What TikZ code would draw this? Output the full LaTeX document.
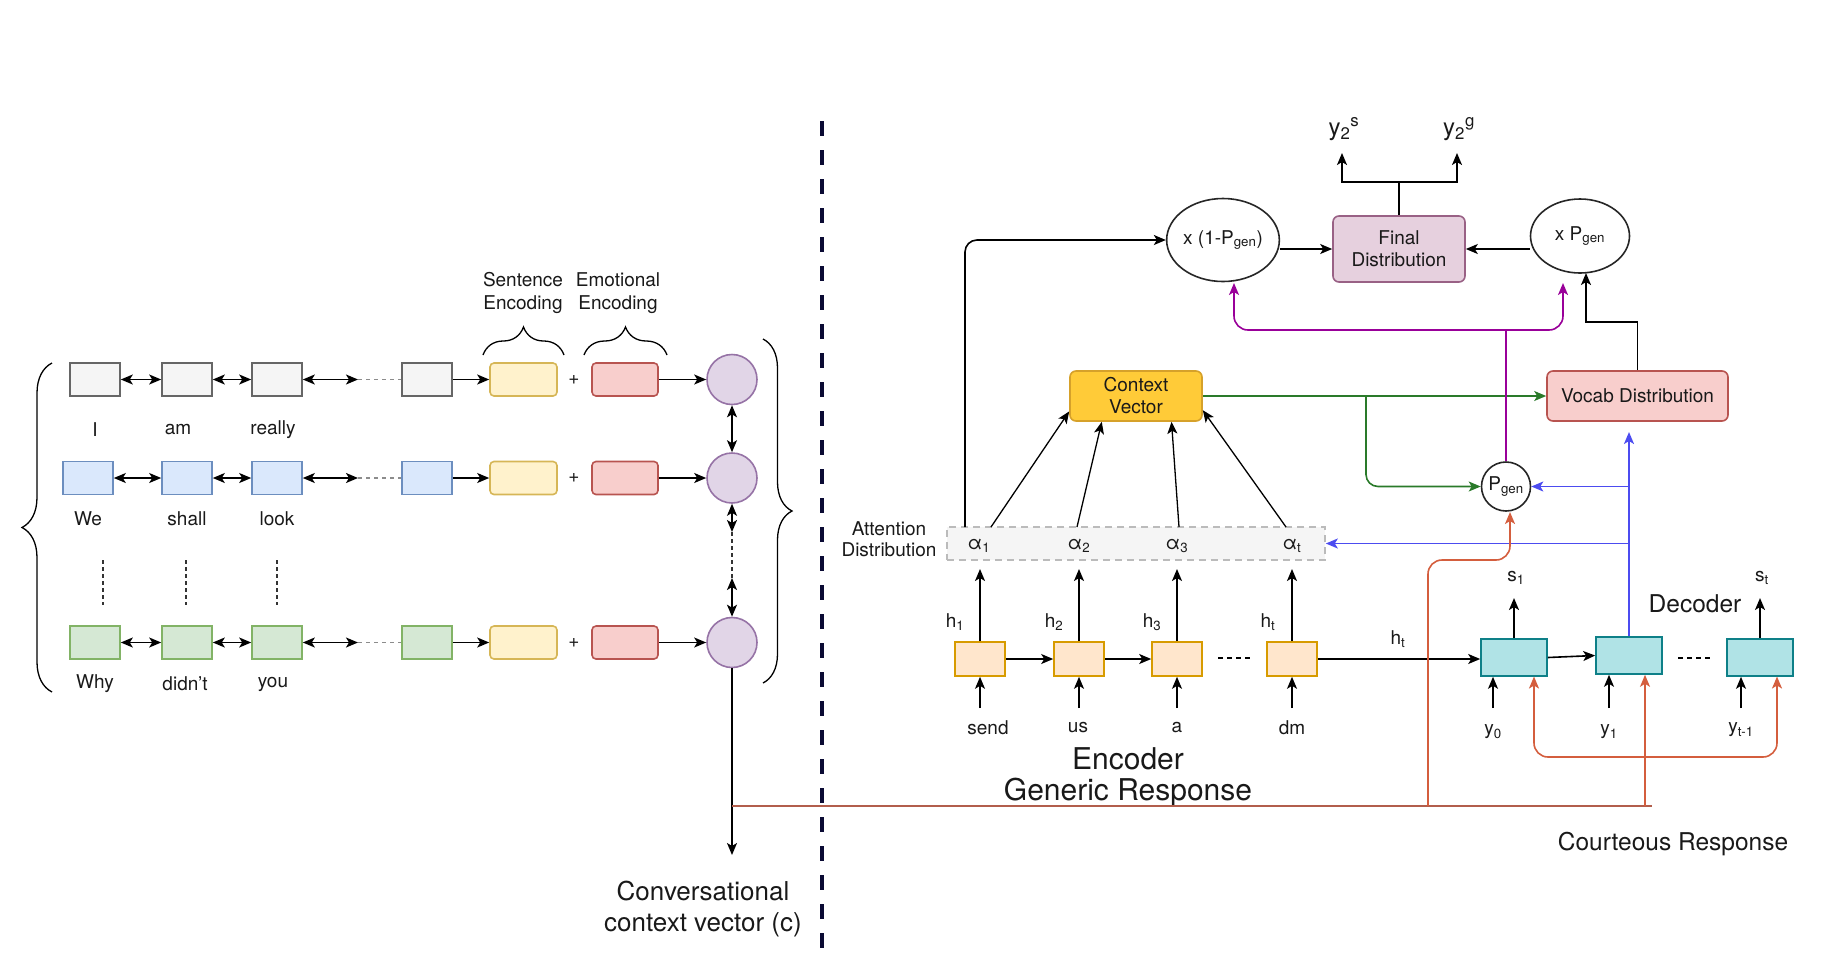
\documentclass[tikz,border=0pt]{standalone}
\usepackage{fontspec}
\setmainfont{TeX Gyre Heros}
\usetikzlibrary{arrows.meta,decorations.pathreplacing,shapes.geometric,calc}

\definecolor{gryF}{HTML}{F5F5F5}\definecolor{gryD}{HTML}{666666}
\definecolor{bluF}{HTML}{DAE8FC}\definecolor{bluD}{HTML}{6C8EBF}
\definecolor{grnF}{HTML}{D5E8D4}\definecolor{grnD}{HTML}{82B366}
\definecolor{ylwF}{HTML}{FFF2CC}\definecolor{ylwD}{HTML}{D6B656}
\definecolor{redF}{HTML}{F8CECC}\definecolor{redD}{HTML}{B85450}
\definecolor{prpF}{HTML}{E1D5E7}\definecolor{prpD}{HTML}{9673A6}
\definecolor{finF}{HTML}{E6D0DE}\definecolor{finD}{HTML}{996185}
\definecolor{ctxF}{HTML}{FFCB38}\definecolor{ctxD}{HTML}{D6A12A}
\definecolor{encF}{HTML}{FFE6CC}\definecolor{encD}{HTML}{D79B00}
\definecolor{decF}{HTML}{B0E3E6}\definecolor{decD}{HTML}{0E8088}
\definecolor{attD}{HTML}{BBBBBB}
\definecolor{lnBrown}{HTML}{D45E3E}
\definecolor{lnBrownMain}{HTML}{B25E4C}
\definecolor{lnBlue}{HTML}{4C4CF0}
\definecolor{lnPurple}{HTML}{990099}
\definecolor{lnGreen}{HTML}{2A7A2A}
\definecolor{navy}{HTML}{0A0A33}

\begin{document}
\begin{tikzpicture}[x=1pt,y=-1pt,line width=1.6pt,
  >={Stealth[length=12pt,width=10pt,inset=3pt]},
  every node/.style={font=\fontsize{19}{22}\selectfont,inner sep=0pt,text=black!90},
  tok/.style 2 args={draw=#2,fill=#1,minimum width=50,minimum height=33},
  tokgray/.style={tok={gryF}{gryD}},
  tokblue/.style={tok={bluF}{bluD}},
  tokgreen/.style={tok={grnF}{grnD}},
  sencbox/.style={draw=ylwD,fill=ylwF,rounded corners=4pt,minimum width=67,minimum height=33},
  emobox/.style={draw=redD,fill=redF,rounded corners=4pt,minimum width=66,minimum height=33},
  uttnode/.style={circle,draw=prpD,fill=prpF,minimum size=50},
  encbox/.style={draw=encD,fill=encF,minimum width=50,minimum height=34},
  decbox/.style={draw=decD,fill=decF,minimum width=66,minimum height=37},
  mulnode/.style={ellipse,draw=black!85,fill=white,align=center},
  bigtxt/.style={font=\fontsize{30}{31}\selectfont,align=center},
  midtxt/.style={font=\fontsize{24.5}{28}\selectfont},
  gapdots/.style={draw=black!45,dash pattern=on 4pt off 4pt},
  vdots/.style={draw=black!80,line width=1.3pt,dash pattern=on 4pt off 3pt},
  bracepath/.style={decorate,line width=1.3pt,decoration={brace,amplitude=#1}}
]
\useasboundingbox (0,0) rectangle (1840,978);

% ---------------- utterance encoder ----------------
% row 1
\node[tokgray] (r1a) at (95,379.5) {};
\node[tokgray] (r1b) at (187,379.5) {};
\node[tokgray] (r1c) at (277,379.5) {};
\node[tokgray] (r1d) at (427,379.5) {};
\node[sencbox] (r1s) at (523.5,379.5) {};
\node (r1p) at (574,379.5) {+};
\node[emobox] (r1e) at (625,379.5) {};
\node[uttnode] (u1) at (732,379.5) {};
\coordinate (r1m) at (358,379.5);
\draw[<->] (r1a) -- (r1b);
\draw[<->] (r1b) -- (r1c);
\draw[<->] (r1c) -- (r1m);
\draw[gapdots] (r1m) -- (r1d);
\draw[->] (r1d) -- (r1s);
\draw[->] (r1e) -- (u1);
\node (w11) at (95,430) {I};
\node (w12) at (178,430) {am};
\node (w13) at (273,430) {really};

% row 2
\node[tokblue] (r2a) at (88,478) {};
\node[tokblue] (r2b) at (187,478) {};
\node[tokblue] (r2c) at (277,478) {};
\node[tokblue] (r2d) at (427,478) {};
\node[sencbox] (r2s) at (523.5,478) {};
\node (r2p) at (574,478) {+};
\node[emobox] (r2e) at (625,478) {};
\node[uttnode] (u2) at (732,478) {};
\coordinate (r2m) at (358,478);
\draw[<->] (r2a) -- (r2b);
\draw[<->] (r2b) -- (r2c);
\draw[<->] (r2c) -- (r2m);
\draw[gapdots] (r2m) -- (r2d);
\draw[->] (r2d) -- (r2s);
\draw[->] (r2e) -- (u2);
\node (w21) at (88,519) {We};
\node (w22) at (187,519) {shall};
\node (w23) at (277,519) {look};

% vertical ellipsis between rows
\coordinate (vd1a) at (103,560); \coordinate (vd1b) at (103,605);
\coordinate (vd2a) at (186,560); \coordinate (vd2b) at (186,605);
\coordinate (vd3a) at (277,560); \coordinate (vd3b) at (277,605);
\draw[vdots] (vd1a) -- (vd1b);
\draw[vdots] (vd2a) -- (vd2b);
\draw[vdots] (vd3a) -- (vd3b);

% row 3
\node[tokgreen] (r3a) at (95,642.5) {};
\node[tokgreen] (r3b) at (187,642.5) {};
\node[tokgreen] (r3c) at (277,642.5) {};
\node[tokgreen] (r3d) at (427,642.5) {};
\node[sencbox] (r3s) at (523.5,642.5) {};
\node (r3p) at (574,642.5) {+};
\node[emobox] (r3e) at (625,642.5) {};
\node[uttnode] (u3) at (732,642.5) {};
\coordinate (r3m) at (358,642.5);
\draw[<->] (r3a) -- (r3b);
\draw[<->] (r3b) -- (r3c);
\draw[<->] (r3c) -- (r3m);
\draw[gapdots] (r3m) -- (r3d);
\draw[->] (r3d) -- (r3s);
\draw[->] (r3e) -- (u3);
\node (w31) at (95,684) {Why};
\node (w32) at (185,684) {didn't};
\node (w33) at (273,684) {you};

% braces and their captions
\coordinate (lbA) at (52,692); \coordinate (lbB) at (52,363);
\draw[bracepath=30pt] (lbA) -- (lbB);
\coordinate (rbA) at (763,339); \coordinate (rbB) at (763,683);
\draw[bracepath=29pt] (rbA) -- (rbB);
\coordinate (sbA) at (483,355); \coordinate (sbB) at (564,355);
\draw[bracepath=28pt] (sbA) -- (sbB);
\coordinate (ebA) at (584,355); \coordinate (ebB) at (667,355);
\draw[bracepath=28pt] (ebA) -- (ebB);
\node[align=center,font=\fontsize{19}{23}\selectfont] (sencap) at (523,293) {Sentence\\Encoding};
\node[align=center,font=\fontsize{19}{23}\selectfont] (emocap) at (618,293) {Emotional\\Encoding};

% utterance-level chain
\coordinate (um1) at (732,532);
\coordinate (um2) at (732,578);
\coordinate (cvec) at (732,855);
\draw[<->] (u1) -- (u2);
\draw[<->] (u2) -- (um1);
\draw[vdots] (um1) -- (um2);
\draw[<->] (um2) -- (u3);
\draw[->] (u3) -- (cvec);
\node[align=center,font=\fontsize{26}{31}\selectfont] (cvlabel) at (703,909) {Conversational\\context vector (c)};

% separator
\coordinate (sepA) at (822,121); \coordinate (sepB) at (822,953);
\draw[navy,line width=4.2pt,dash pattern=on 15pt off 14pt] (sepA) -- (sepB);

% ---------------- pointer-generator side ----------------
\node[draw=attD,fill=gryF,dashed,dash pattern=on 7pt off 5pt,minimum width=378,minimum height=33] (att) at (1136,543.5) {};
\node[align=center,font=\fontsize{19}{21}\selectfont] (attlbl) at (889,539) {Attention\\Distribution};
\node (al1) at (979,546) {α\textsubscript{1}};
\node (al2) at (1079,546) {α\textsubscript{2}};
\node (al3) at (1177,546) {α\textsubscript{3}};
\node (alt) at (1292,546) {α\textsubscript{t}};

% encoder
\node[encbox] (e1) at (980,659) {};
\node[encbox] (e2) at (1079,659) {};
\node[encbox] (e3) at (1177,659) {};
\node[encbox] (e4) at (1292,659) {};
\draw[->] (e1) -- (e2);
\draw[->] (e2) -- (e3);
\coordinate (edA) at (1218,658); \coordinate (edB) at (1252,658);
\draw[line width=1.3pt,dash pattern=on 5pt off 4pt] (edA) -- (edB);
\coordinate (h1t) at (980,569); \coordinate (h2t) at (1079,569);
\coordinate (h3t) at (1177,569); \coordinate (h4t) at (1292,569);
\draw[->] (e1.north) -- (h1t);
\draw[->] (e2.north) -- (h2t);
\draw[->] (e3.north) -- (h3t);
\draw[->] (e4.north) -- (h4t);
\node (h1) at (955,622) {h\textsubscript{1}};
\node (h2) at (1054,622) {h\textsubscript{2}};
\node (h3) at (1152,622) {h\textsubscript{3}};
\node (h4) at (1268,622) {h\textsubscript{t}};
\coordinate (x1) at (980,708); \coordinate (x2) at (1079,708);
\coordinate (x3) at (1177,708); \coordinate (x4) at (1292,708);
\draw[->] (x1) -- (e1.south);
\draw[->] (x2) -- (e2.south);
\draw[->] (x3) -- (e3.south);
\draw[->] (x4) -- (e4.south);
\node (ws1) at (988,728) {send};
\node (ws2) at (1078,728) {us};
\node (ws3) at (1177,728) {a};
\node (ws4) at (1292,728) {dm};
\node[bigtxt] (enclbl) at (1128,777) {Encoder\\Generic Response};

% context vector and its attention inputs
\node[draw=ctxD,fill=ctxF,rounded corners=6pt,minimum width=132,minimum height=50,align=center,font=\fontsize{19}{22}\selectfont] (ctx) at (1136,396) {Context\\Vector};
\coordinate (a1s) at (991,527); \coordinate (a2s) at (1077,527);
\coordinate (a3s) at (1179,527); \coordinate (a4s) at (1286,527);
\draw[->,line width=1.3pt] (a1s) -- (ctx.193);
\draw[->,line width=1.3pt] (a2s) -- (ctx.217);
\draw[->,line width=1.3pt] (a3s) -- (ctx.-36);
\draw[->,line width=1.3pt] (a4s) -- (ctx.-12);

% mixing nodes and final distribution
\node[mulnode,minimum width=106,minimum height=83] (om) at (1223,240) {x (1-P\textsubscript{gen})};
\node[draw=finD,fill=finF,rounded corners=6pt,minimum width=132,minimum height=66,align=center,font=\fontsize{19}{22}\selectfont] (final) at (1399,249) {Final\\Distribution};
\node[mulnode,minimum width=99,minimum height=74] (pm) at (1580,236) {x P\textsubscript{gen}};
\node[draw=redD,fill=redF,rounded corners=6pt,minimum width=181,minimum height=50] (vocab) at (1637.5,396) {Vocab Distribution};
\node[circle,draw=black!85,fill=white,minimum size=49] (pgen) at (1506,486.5) {P\textsubscript{gen}};

\coordinate (attup) at (965,527);
\draw[->,rounded corners=12pt] (attup) |- (om.west);
\draw[->] (om.east |- final.west) -- (final.west);
\draw[->] (pm.west |- final.east) -- (final.east);

% outputs
\node[font=\fontsize{24}{26}\selectfont] (ys) at (1344,129) {y\textsubscript{2}\textsuperscript{s}};
\node[font=\fontsize{24}{26}\selectfont] (yg) at (1459,129) {y\textsubscript{2}\textsuperscript{g}};
\coordinate (fsplit) at (1399,182);
\coordinate (ysA) at (1342,153); \coordinate (ygA) at (1457,153);
\draw (final.north) -- (fsplit);
\draw[->] (fsplit) -| (ysA);
\draw[->] (fsplit) -| (ygA);

% vocab distribution to the generation weight
\coordinate (vbend) at (1637.5,322);
\coordinate (pmin) at (1586,273);
\draw[->] (vocab.north) -- (vbend) -| (pmin);

% context vector flows
\coordinate (gsplit) at (1366,396);
\draw[->,lnGreen] (ctx.east) -- (vocab.west);
\draw[->,lnGreen,rounded corners=12pt] (gsplit) |- (pgen.west);

% p_gen to both mixers
\coordinate (psplit) at (1506,330);
\coordinate (omin) at (1234,283);
\coordinate (pmin2) at (1563,283);
\draw[lnPurple] (pgen.north) -- (psplit);
\draw[->,lnPurple,rounded corners=14pt] (psplit) -| (omin);
\draw[->,lnPurple,rounded corners=14pt] (psplit) -| (pmin2);

% decoder
\node[decbox] (d1) at (1514,657.5) {};
\node[decbox] (d2) at (1629,655.5) {};
\node[decbox] (d3) at (1760,657.5) {};
\draw[->] (e4.east) -- (e4.east -| d1.west);
\node (htl) at (1398,639) {h\textsubscript{t}};
\draw[->] (d1.east) -- (d2.west);
\coordinate (ddA) at (1678,658); \coordinate (ddB) at (1712,658);
\draw[line width=1.3pt,dash pattern=on 5pt off 4pt] (ddA) -- (ddB);
\coordinate (s1t) at (1514,598); \coordinate (stt) at (1760,598);
\draw[->] (d1.north) -- (s1t);
\draw[->] (d3.north) -- (stt);
\node (s1) at (1516,578) {s\textsubscript{1}};
\node (st) at (1762,578) {s\textsubscript{t}};
\node[midtxt] (declbl) at (1695,604) {Decoder};
\coordinate (y0b) at (1493,708); \coordinate (y1b) at (1609,708); \coordinate (ytb) at (1741,708);
\draw[->] (y0b) -- (y0b |- d1.south);
\draw[->] (y1b) -- (y1b |- d2.south);
\draw[->] (ytb) -- (ytb |- d3.south);
\node (y0) at (1493,732) {y\textsubscript{0}};
\node (y1) at (1609,732) {y\textsubscript{1}};
\node (yt) at (1741,730) {y\textsubscript{t-1}};

% decoder state feeds
\coordinate (bvtop) at (1629,432);
\coordinate (bpg) at (1629,486.5);
\coordinate (batt) at (1629,543.5);
\draw[->,lnBlue] (d2.north) -- (bvtop);
\draw[->,lnBlue] (bpg) -- (pgen.east);
\draw[->,lnBlue] (batt) -- (att.east);

% conversational context feeds
\coordinate (bA) at (732,806);
\coordinate (bB) at (1652,806);
\coordinate (bC) at (1428,806);
\coordinate (bC2) at (1428,560);
\coordinate (bC3) at (1510,560);
\coordinate (bC4) at (1510,512);
\coordinate (bD) at (1645,806);
\draw[lnBrownMain] (bA) -- (bB);
\draw[->,lnBrown,rounded corners=14pt] (bC) -- (bC2) -- (bC3) -- (bC4);
\draw[->,lnBrown] (bD) -- (bD |- d2.south);
\coordinate (lpA) at (1534,676.5);
\coordinate (lpB) at (1534,757);
\coordinate (lpC) at (1777,757);
\coordinate (lpD) at (1777,676.5);
\draw[<->,lnBrown,rounded corners=14pt] (lpA) -- (lpB) -- (lpC) -- (lpD);

\node[midtxt] (courteous) at (1673,844) {Courteous Response};
\end{tikzpicture}
\end{document}
